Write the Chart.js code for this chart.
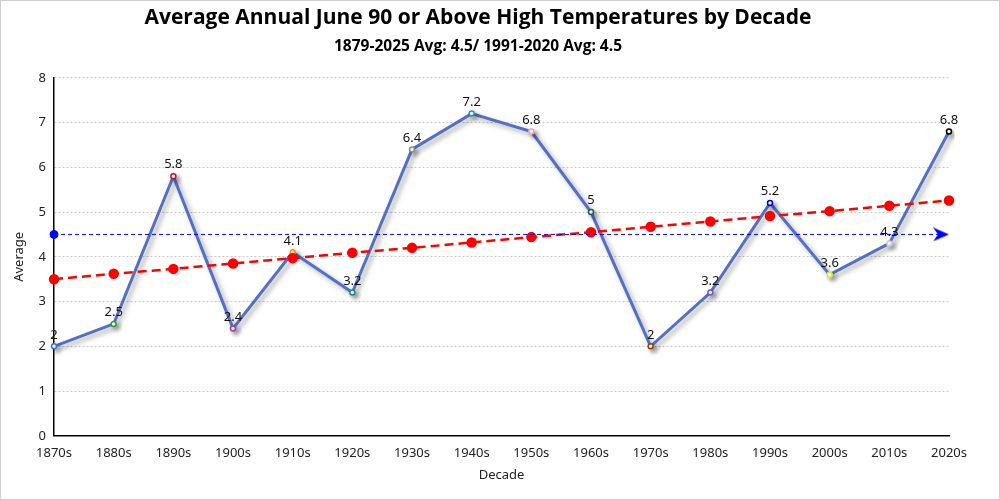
<!DOCTYPE html>
<html>
<head>
<meta charset="utf-8">
<script src="https://cdn.jsdelivr.net/npm/chart.js@4.4.1/dist/chart.umd.min.js"></script>
<style>
  html, body { margin: 0; padding: 0; background: #fff; }
  #wrap { width: 998px; height: 498px; border: 1px solid #cfcfcf; position: relative; }
</style>
</head>
<body>
<div id="wrap"><canvas id="myChart"></canvas></div>
<script>
// data
var decades = ["1870s", "1880s", "1890s", "1900s", "1910s", "1920s", "1930s", "1940s",
               "1950s", "1960s", "1970s", "1980s", "1990s", "2000s", "2010s", "2020s"];
var averages = [2, 2.5, 5.8, 2.4, 4.1, 3.2, 6.4, 7.2, 6.8, 5, 2, 3.2, 5.2, 3.6, 4.3, 6.8];
var trend = [3.50, 3.62, 3.73, 3.85, 3.97, 4.09, 4.20, 4.32, 4.44, 4.55, 4.67, 4.79, 4.91, 5.02, 5.14, 5.26];
var longAvg = [4.5, null, null, null, null, null, null, null, null, null, null, null, null, null, null, 4.5];
var pointColors = ["#4472c4", "#2ca02c", "#c0143c", "#9b3fb5", "#f28e00", "#1f8a8a", "#8c8c8c", "#2b8cbe",
                   "#f4a6a6", "#1d5e5e", "#8b4513", "#6a5acd", "#0000cc", "#e6e62e", "#c8c8e8", "#000000"];

// arrow head for the end of the average line (tip sits at the point)
var arrow = document.createElement("canvas");
arrow.width = 36; arrow.height = 14;
var a = arrow.getContext("2d");
a.fillStyle = "#0000ff";
a.beginPath();
a.moveTo(18, 7);
a.lineTo(2, 0);
a.lineTo(7, 7);
a.lineTo(2, 14);
a.closePath();
a.fill();

var shadowPlugin = {
    id: "lineShadow",
    beforeDatasetDraw: function (chart, args) {
        if (args.index === 0) {
            var c = chart.ctx;
            c.save();
            c.shadowColor = "rgba(0,0,0,0.35)";
            c.shadowBlur = 5;
            c.shadowOffsetX = 3;
            c.shadowOffsetY = 3;
        }
    },
    afterDatasetDraw: function (chart, args) {
        if (args.index === 0) chart.ctx.restore();
    }
};

var labelPlugin = {
    id: "valueLabels",
    afterDatasetsDraw: function (chart) {
        var c = chart.ctx;
        var meta = chart.getDatasetMeta(0);
        c.save();
        c.font = "13px 'Noto Sans'";
        c.fillStyle = "#111";
        c.textAlign = "center";
        c.textBaseline = "bottom";
        meta.data.forEach(function (pt, i) {
            c.fillText(String(averages[i]), pt.x, pt.y - 5);
        });
        c.restore();
    }
};

var ctx = document.getElementById("myChart");
var myChart = new Chart(ctx, {
    type: "line",
    data: {
        labels: decades,
        datasets: [{
            label: "Average",
            data: averages,
            borderColor: "#5470c6",
            borderWidth: 3,
            pointRadius: 2.5,
            pointBorderWidth: 1.5,
            pointBackgroundColor: "#ffffff",
            pointBorderColor: pointColors,
            tension: 0,
            order: 2
        }, {
            label: "Trend",
            data: trend,
            borderColor: "#ff0000",
            borderWidth: 2.5,
            borderDash: [9, 5],
            pointRadius: 4,
            pointBackgroundColor: "#ff0000",
            pointBorderColor: "#ff0000",
            order: 1
        }, {
            label: "1879-2025 Avg",
            data: longAvg,
            spanGaps: true,
            borderColor: "#0000ff",
            borderWidth: 1,
            borderDash: [4, 3],
            pointRadius: [4, 0, 0, 0, 0, 0, 0, 0, 0, 0, 0, 0, 0, 0, 0, 8],
            pointStyle: ["circle", "circle", "circle", "circle", "circle", "circle", "circle", "circle",
                         "circle", "circle", "circle", "circle", "circle", "circle", "circle", arrow],
            pointBackgroundColor: "#0000ff",
            pointBorderColor: "#0000ff",
            order: 0
        }]
    },
    options: {
        responsive: true,
        maintainAspectRatio: false,
        animation: false,
        layout: { padding: { left: 6, right: 50, top: 0, bottom: 12 } },
        plugins: {
            legend: { display: false },
            tooltip: { enabled: false },
            title: {
                display: true,
                text: "Average Annual June 90 or Above High Temperatures by Decade",
                color: "#000",
                font: { family: "'Open Sans'", size: 21, weight: "bold" },
                padding: { top: 4, bottom: 7 }
            },
            subtitle: {
                display: true,
                text: "1879-2025 Avg: 4.5/ 1991-2020 Avg: 4.5",
                color: "#000",
                font: { family: "'Open Sans'", size: 15.5, weight: "bold" },
                padding: { bottom: 22 }
            }
        },
        scales: {
            x: {
                offset: false,
                grid: { display: false, drawTicks: true },
                border: { color: "#000", width: 1.5 },
                ticks: { color: "#222", font: { family: "'Noto Sans'", size: 13 }, maxRotation: 0, padding: 2 },
                title: { display: true, text: "Decade", color: "#222", font: { family: "'Noto Sans'", size: 13 }, padding: { top: 4 } }
            },
            y: {
                min: 0,
                max: 8,
                ticks: { stepSize: 1, color: "#222", font: { family: "'Noto Sans'", size: 13 }, padding: 8 },
                grid: { color: "#c8c8c8", drawTicks: false, lineWidth: 1 },
                border: { color: "#000", width: 1.5, dash: [2, 2] },
                title: { display: true, text: "Average", color: "#222", font: { family: "'Noto Sans'", size: 13 } }
            }
        }
    },
    plugins: [shadowPlugin, labelPlugin]
});
</script>
</body>
</html>
